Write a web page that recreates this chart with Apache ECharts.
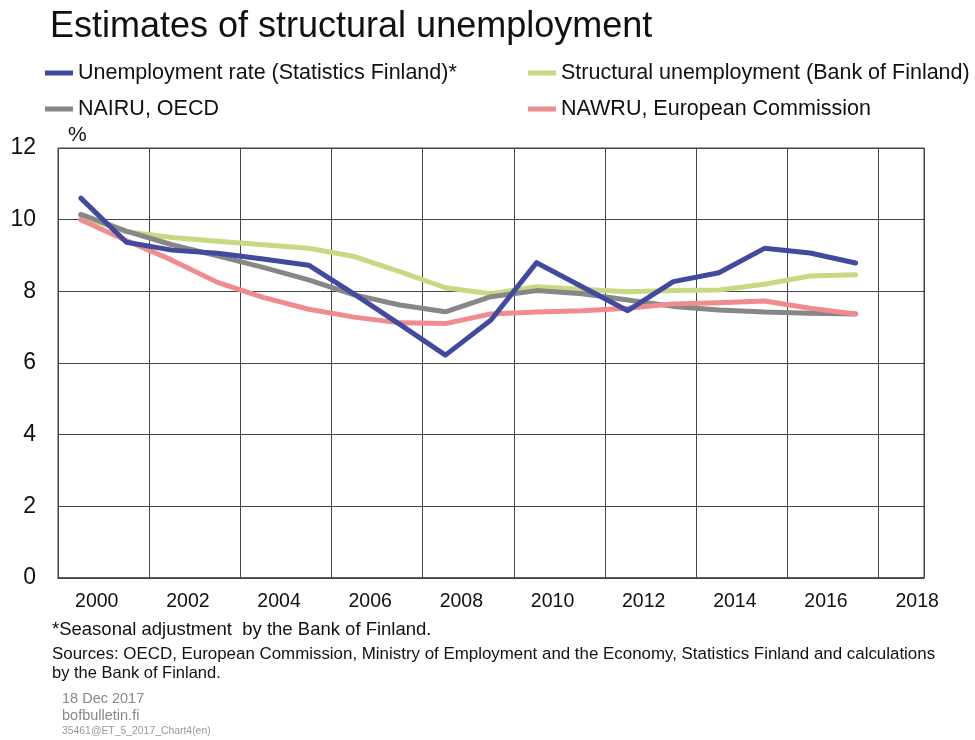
<!DOCTYPE html>
<html>
<head>
<meta charset="utf-8">
<script src="https://cdn.jsdelivr.net/npm/echarts@6/dist/echarts.min.js"></script>
<style>
html,body{margin:0;padding:0;background:#fff;}
#chart{width:975px;height:740px;}
</style>
</head>
<body>
<div id="chart"></div>
<script>
// ---- data ----
const years = [2000,2001,2002,2003,2004,2005,2006,2007,2008,2009,2010,2011,2012,2013,2014,2015,2016,2017];
const unemploymentRate = [10.6,9.37,9.15,9.06,8.9,8.73,7.92,7.08,6.22,7.2,8.8,8.13,7.46,8.27,8.52,9.2,9.07,8.79];
const structuralBoF   = [10.1,9.66,9.5,9.4,9.3,9.2,8.97,8.55,8.1,7.93,8.13,8.06,7.99,8.02,8.04,8.2,8.43,8.46];
const nairuOECD       = [10.15,9.68,9.3,8.99,8.67,8.32,7.9,7.62,7.43,7.85,8.02,7.93,7.76,7.58,7.48,7.42,7.39,7.37];
const nawruEC         = [10.0,9.42,8.87,8.25,7.83,7.5,7.28,7.12,7.1,7.37,7.42,7.46,7.53,7.65,7.68,7.73,7.53,7.37];
const xTickLabels = ['2000','2002','2004','2006','2008','2010','2012','2014','2016','2018'];
const yTickLabels = [0,2,4,6,8,10,12];
const seriesNames = [
  'Unemployment rate (Statistics Finland)*',
  'Structural unemployment (Bank of Finland)',
  'NAIRU, OECD',
  'NAWRU, European Commission'
];

// annual values plotted at mid-year
const toPairs = arr => years.map((y, i) => [y + 0.5, arr[i]]);
const labelShift = 0.85;

const font = '"Liberation Sans", Arial, sans-serif';
const chart = echarts.init(document.getElementById('chart'));
const colors = ['#414a9e', '#c7da83', '#878787', '#f08b8f'];

const legendBase = {
  top: 62, orient: 'vertical', itemGap: 14, padding: 0,
  icon: 'rect', itemWidth: 28, itemHeight: 5,
  textStyle: { fontSize: 21.5, color: '#111', fontFamily: font }
};

chart.setOption({
  animation: false,
  textStyle: { fontFamily: font },
  title: {
    text: 'Estimates of structural unemployment',
    left: 45, top: 4,
    textStyle: { fontSize: 36, fontWeight: 'normal', color: '#111', fontFamily: font }
  },
  legend: [
    Object.assign({}, legendBase, { left: 45, data: [seriesNames[0], seriesNames[2]] }),
    Object.assign({}, legendBase, { left: 528, data: [seriesNames[1], seriesNames[3]] })
  ],
  grid: {
    left: 58, right: 51, top: 148, bottom: 162,
    show: true, borderColor: '#444', borderWidth: 1
  },
  xAxis: {
    type: 'value', min: 2000, max: 2019, interval: 2,
    axisLine: { show: true, lineStyle: { color: '#444', width: 1.5 } },
    axisTick: { show: false },
    splitLine: { show: true, lineStyle: { color: '#444', width: 1 } },
    axisLabel: {
      customValues: xTickLabels.map(l => Number(l) + labelShift),
      formatter: v => String(Math.round(v - labelShift)),
      fontSize: 19.5, color: '#111', margin: 14, fontFamily: font
    }
  },
  yAxis: {
    type: 'value', min: yTickLabels[0], max: yTickLabels[yTickLabels.length - 1], interval: 2,
    name: '%', nameLocation: 'end', nameGap: 6,
    nameTextStyle: { fontSize: 21, color: '#111', align: 'left', padding: [0,0,-4,10], fontFamily: font },
    axisLine: { show: false },
    axisTick: { show: false },
    splitLine: { show: true, lineStyle: { color: '#444', width: 1 } },
    axisLabel: { fontSize: 23, color: '#111', margin: 22, fontFamily: font }
  },
  series: [
    { name: seriesNames[1], type: 'line', data: toPairs(structuralBoF), z: 2 },
    { name: seriesNames[2], type: 'line', data: toPairs(nairuOECD), z: 3 },
    { name: seriesNames[3], type: 'line', data: toPairs(nawruEC), z: 4 },
    { name: seriesNames[0], type: 'line', data: toPairs(unemploymentRate), z: 5 }
  ].map(s => Object.assign(s, {
    showSymbol: false, symbol: 'none',
    lineStyle: { width: 5, color: colors[seriesNames.indexOf(s.name)], cap: 'round', join: 'round' },
    itemStyle: { color: colors[seriesNames.indexOf(s.name)] }
  })),
  graphic: [
    { type: 'text', left: 52, top: 620, style: { text: '*Seasonal adjustment  by the Bank of Finland.', font: '18.5px ' + font, fill: '#111' } },
    { type: 'text', left: 52, top: 646, style: { text: 'Sources: OECD, European Commission, Ministry of Employment and the Economy, Statistics Finland and calculations', font: '16.9px ' + font, fill: '#111' } },
    { type: 'text', left: 52, top: 665, style: { text: 'by the Bank of Finland.', font: '16.5px ' + font, fill: '#111' } },
    { type: 'text', left: 62, top: 691, style: { text: '18 Dec 2017', font: '14.5px ' + font, fill: '#888' } },
    { type: 'text', left: 62, top: 708, style: { text: 'bofbulletin.fi', font: '14.5px ' + font, fill: '#888' } },
    { type: 'text', left: 62, top: 726, style: { text: '35461@ET_5_2017_Chart4(en)', font: '10.4px ' + font, fill: '#999' } }
  ]
});
</script>
</body>
</html>
